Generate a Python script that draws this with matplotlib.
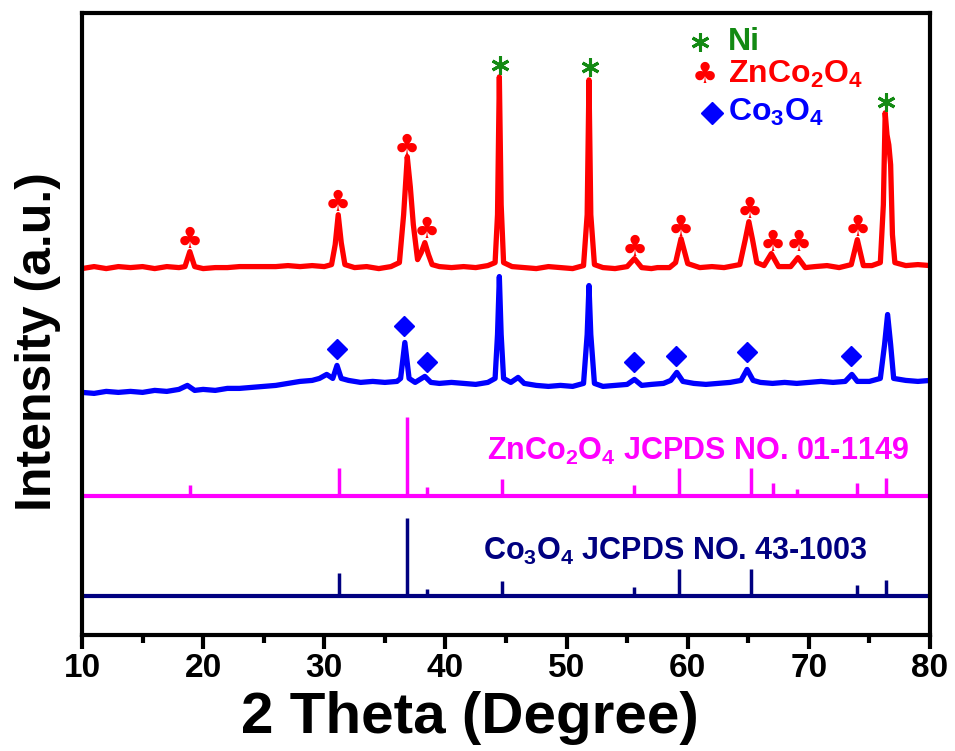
import matplotlib
matplotlib.use("Agg")
import matplotlib.pyplot as plt

plt.rcParams['font.family'] = ['Liberation Sans', 'DejaVu Sans']
plt.rcParams['font.weight'] = 'bold'
plt.rcParams['mathtext.fontset'] = 'custom'
plt.rcParams['mathtext.rm'] = 'Liberation Sans:bold'
plt.rcParams['mathtext.default'] = 'rm'

# --- dados (intensidade em unidades arbitrarias) ---
# amostra ZnCo2O4 sobre Ni (curva vermelha)
red_x = [10.0, 11.0, 12.0, 13.0, 14.0, 15.0, 16.0, 17.0, 18.0, 18.5, 18.9, 19.3,
         20.0, 21.0, 22.0, 23.0, 24.0, 25.0, 26.0, 27.0, 28.0, 29.0, 30.0, 30.6,
         30.9, 31.15, 31.4, 31.7, 32.5, 33.5, 34.5, 35.5, 36.2, 36.55, 36.85, 37.1,
         37.35, 37.7, 38.0, 38.3, 38.6, 38.9, 39.5, 40.5, 41.5, 42.5, 43.5, 44.1,
         44.3, 44.45, 44.6, 44.8, 45.5, 46.5, 47.5, 48.5, 49.5, 50.5, 51.4, 51.7,
         51.85, 52.0, 52.3, 53.0, 54.0, 55.0, 55.6, 56.2, 57.0, 57.5, 58.5, 59.0,
         59.45, 60.0, 61.0, 62.0, 63.0, 64.3, 64.75, 65.05, 65.35, 65.7, 66.3, 66.9,
         67.5, 68.5, 69.1, 69.7, 70.5, 71.5, 72.5, 73.5, 74.0, 74.5, 75.2, 75.9,
         76.15, 76.3, 76.45, 76.6, 76.75, 76.9, 77.1, 78.0, 79.0, 80.0]
red_y = [366, 368, 366, 368, 367, 368, 366, 368, 367, 368, 383, 368,
         366, 367, 367, 368, 368, 368, 368, 369, 368, 369, 368, 370,
         390, 420, 392, 370, 367, 368, 366, 368, 372, 420, 478, 448,
         410, 375, 382, 392, 380, 370, 368, 367, 368, 367, 369, 372,
         420, 558, 430, 372, 368, 367, 366, 368, 367, 366, 369, 420,
         555, 420, 370, 367, 366, 368, 376, 367, 366, 367, 367, 372,
         396, 371, 367, 368, 367, 370, 395, 413, 395, 372, 369, 381,
         368, 368, 377, 367, 368, 369, 367, 370, 395, 369, 369, 372,
         430, 522, 500, 490, 470, 400, 372, 369, 370, 369]

# amostra Co3O4 (curva azul)
blue_x = [10.0, 11.0, 12.0, 13.0, 14.0, 15.0, 16.0, 17.0, 18.0, 18.7, 19.3, 20.0,
          21.0, 22.0, 23.0, 24.0, 25.0, 26.0, 27.0, 28.0, 29.0, 29.6, 30.2, 30.7,
          31.05, 31.4, 32.0, 33.0, 34.0, 35.0, 36.0, 36.3, 36.65, 37.0, 37.5, 38.3,
          38.8, 39.5, 40.5, 41.5, 42.5, 43.5, 44.1, 44.3, 44.45, 44.6, 44.8, 45.4,
          46.0, 46.5, 47.5, 48.5, 49.5, 50.5, 51.4, 51.7, 51.85, 52.0, 52.3, 53.0,
          54.0, 55.0, 55.6, 56.2, 57.0, 58.0, 58.6, 59.1, 59.6, 60.5, 61.5, 62.5,
          63.5, 64.4, 64.9, 65.4, 66.0, 67.0, 68.0, 69.0, 70.0, 71.0, 72.0, 73.0,
          73.55, 74.0, 75.0, 75.9, 76.25, 76.5, 76.75, 77.0, 78.0, 79.0, 80.0]
blue_y = [242, 241, 243, 242, 243, 242, 244, 243, 245, 249, 244, 245,
          244, 246, 246, 247, 248, 249, 251, 253, 254, 256, 260, 256,
          269, 256, 254, 252, 253, 252, 253, 256, 292, 256, 252, 258,
          252, 251, 252, 251, 250, 252, 256, 300, 358, 300, 256, 252,
          257, 251, 249, 248, 249, 248, 251, 300, 349, 300, 251, 248,
          249, 250, 255, 249, 250, 251, 254, 262, 253, 251, 250, 251,
          252, 254, 265, 254, 252, 251, 252, 251, 252, 253, 252, 253,
          260, 253, 253, 256, 290, 320, 290, 256, 254, 253, 254]

# padroes JCPDS (posicao e altura das barras)
zco_pos = [18.9, 31.2, 36.8, 38.5, 44.7, 55.6, 59.3, 65.2, 67.0, 69.0, 74.0, 76.4]
zco_h = [11, 28, 79, 9, 17, 11, 28, 28, 13, 7, 13, 18]
zco_base = 138
co_pos = [31.2, 36.8, 38.5, 44.7, 55.6, 59.3, 65.2, 74.0, 76.4]
co_h = [23, 78, 7, 15, 9, 27, 27, 11, 16]
co_base = 38

# simbolos sobre os picos
club_x = [18.9, 31.15, 36.85, 38.5, 55.6, 59.45, 65.1, 67.0, 69.2, 74.0]
club_y = [395, 432, 488, 405, 387, 407, 425, 392, 392, 407]
ni_x = [44.5, 51.9, 76.35]
ni_y = [570, 568, 533]
dia_x = [31.05, 36.6, 38.5, 55.6, 59.0, 64.9, 73.5]
dia_y = [285, 308, 272, 272, 278, 282, 278]

RED = '#ff0000'
BLUE = '#0000ff'
PINK = '#ff00ff'
NAVY = '#000080'
GREEN = '#138a13'
asterisco = (6, 2, 0)  # marcador tipo asterisco

fig = plt.figure(figsize=(9.55, 7.51), dpi=100)
ax = fig.add_axes([82/955, 116/751, 848/955, 622/751])

ax.plot(red_x, red_y, color=RED, lw=3.8, solid_joinstyle='round')
ax.plot(blue_x, blue_y, color=BLUE, lw=3.8, solid_joinstyle='round')

ax.axhline(zco_base, color=PINK, lw=3)
ax.vlines(zco_pos, zco_base, [zco_base + h for h in zco_h], color=PINK, lw=2.5)
ax.axhline(co_base, color=NAVY, lw=3)
ax.vlines(co_pos, co_base, [co_base + h for h in co_h], color=NAVY, lw=2.5)

for x, y in zip(club_x, club_y):
    ax.text(x, y, '\u2663', color=RED, fontsize=21, ha='center', va='center',
            family=['DejaVu Sans'])
ax.plot(ni_x, ni_y, ls='none', marker=asterisco, ms=13, mew=2.2, color=GREEN)
ax.plot(dia_x, dia_y, 'D', color=BLUE, ms=10, ls='none')

# legenda manual
ax.plot([61.0], [593], ls='none', marker=asterisco, ms=13, mew=2.2, color=GREEN)
ax.text(63.3, 593, 'Ni', color=GREEN, fontsize=23, ha='left', va='center')
ax.text(61.4, 560, '\u2663', color=RED, fontsize=21, ha='center', va='center',
        family=['DejaVu Sans'])
ax.text(63.3, 560, r'ZnCo$_2$O$_4$', color=RED, fontsize=23, ha='left', va='center')
ax.plot([62.0], [522], 'D', color=BLUE, ms=11, ls='none')
ax.text(63.3, 522, r'Co$_3$O$_4$', color=BLUE, fontsize=23, ha='left', va='center')

ax.text(43.4, 183, r'ZnCo$_2$O$_4$ JCPDS NO. 01-1149', color=PINK, fontsize=22,
        ha='left', va='center')
ax.text(43.1, 83, r'Co$_3$O$_4$ JCPDS NO. 43-1003', color=NAVY, fontsize=22,
        ha='left', va='center')

ax.set_xlim(10, 80)
ax.set_ylim(-1, 622)
ax.set_xticks(range(10, 81, 10))
ax.set_xticks(range(15, 80, 10), minor=True)
ax.set_yticks([])
ax.tick_params(axis='x', which='major', length=10, width=3, labelsize=24, pad=3)
ax.tick_params(axis='x', which='minor', length=6, width=3)
for s in ax.spines.values():
    s.set_linewidth(3)

fig.text(470/955, 1 - 718/751, '2 Theta (Degree)', fontsize=42, ha='center', va='center')
fig.text(38/955, 1 - 342/751, 'Intensity (a.u.)', fontsize=36, rotation=90,
         ha='center', va='center')

fig.savefig('out.png', dpi=100)
